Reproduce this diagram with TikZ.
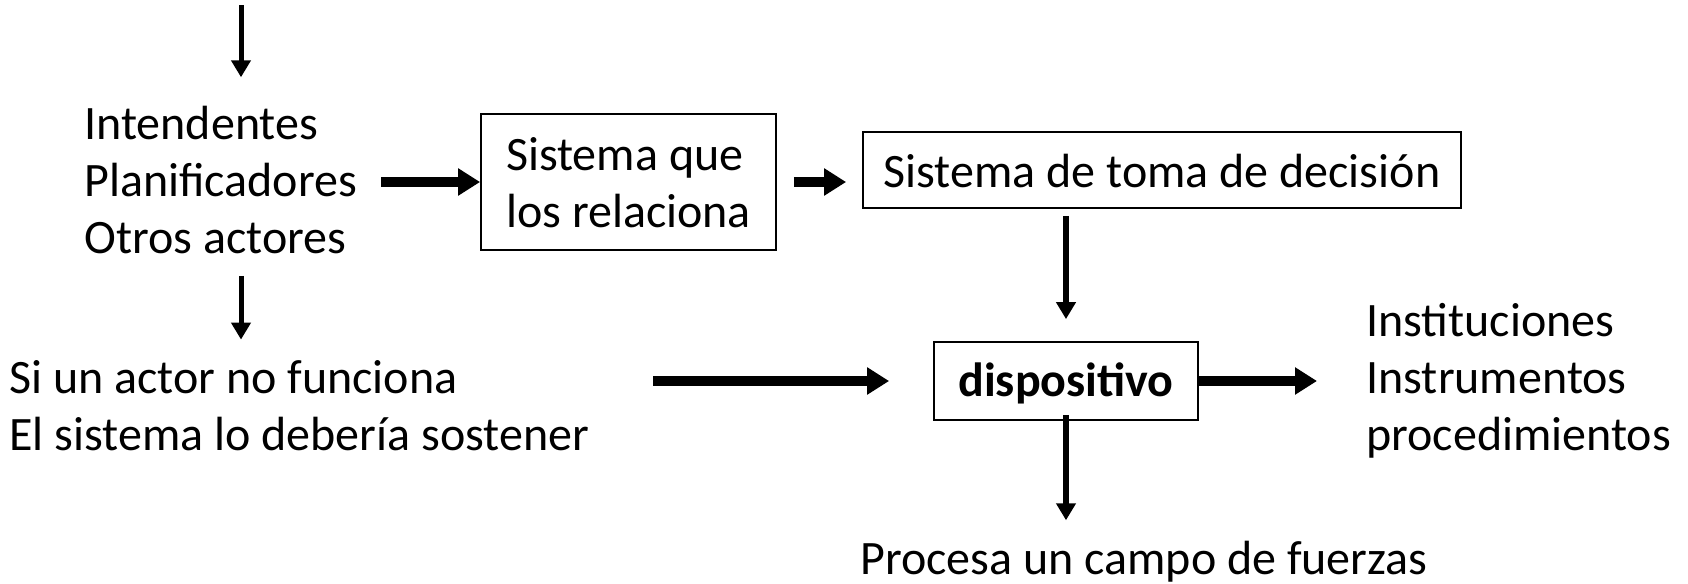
\documentclass[tikz,border=0pt]{standalone}
\usepackage{fontspec}
\setmainfont{Carlito}
\usetikzlibrary{arrows.meta}
\begin{document}
\begin{tikzpicture}[x=0.5pt,y=-0.5pt,
  fnt/.style={font=\fontsize{24}{28.5}\selectfont},
  txt/.style={fnt, inner sep=0pt, align=left},
  boxnode/.style={fnt, draw, line width=0.9pt, inner sep=0pt, align=left},
  thinarrow/.style={line width=2.5pt, -{Triangle[length=8.5pt,width=9.5pt]}},
  midarrow/.style={line width=3.2pt, -{Triangle[length=8.5pt,width=9.5pt]}},
  thickarrow/.style={line width=5pt, -{Triangle[length=11pt,width=13pt]}}]
\useasboundingbox (0,0) rectangle (1688,584);

\node[txt, anchor=base west] (actors) at (84,253) {Intendentes\\Planificadores\\Otros actores};
\node[boxnode, minimum width=147.5pt, minimum height=68pt, text height=45pt, text depth=0pt] (rel) at (628.5,182) {Sistema que\\los relaciona};
\node[boxnode, minimum width=299pt, minimum height=38pt, text height=17pt, text depth=0pt] (dec) at (1162,170) {Sistema de toma de decisión};
\node[boxnode, minimum width=132pt, minimum height=39pt, text height=18pt, text depth=3pt, font=\fontsize{24}{28.5}\selectfont\bfseries] (disp) at (1066,381) {dispositivo};
\node[txt, anchor=base west] (sis) at (9,450) {Si un actor no funciona\\El sistema lo debería sostener};
\node[txt, anchor=base west] (inst) at (1366,450) {Instituciones\\Instrumentos\\procedimientos};
\node[txt, anchor=base west] (proc) at (860,574) {Procesa un campo de fuerzas};

\coordinate (top) at (241,5);
\draw[thinarrow, shorten >=14pt] (top) -- (top |- actors.north);
\draw[thickarrow, shorten <=12pt] (actors.east |- rel.west) -- (rel.west);
\draw[thickarrow, shorten <=8.5pt, shorten >=8pt] (rel.east) -- (rel.east -| dec.west);
\draw[midarrow, shorten <=3.5pt, shorten >=11pt] (disp.north |- dec.south) -- (disp.north);
\draw[thinarrow, shorten <=11pt, shorten >=10pt] (top |- actors.south) -- (top |- sis.north);
\draw[thickarrow, shorten <=32pt, shorten >=22pt] (sis.east |- disp.west) -- (disp.west);
\draw[thickarrow, shorten >=24.5pt] (disp.east) -- (disp.east -| inst.west);
\draw[midarrow, shorten <=-3pt, shorten >=10pt] (disp.south) -- (disp.south |- proc.north);
\end{tikzpicture}
\end{document}
